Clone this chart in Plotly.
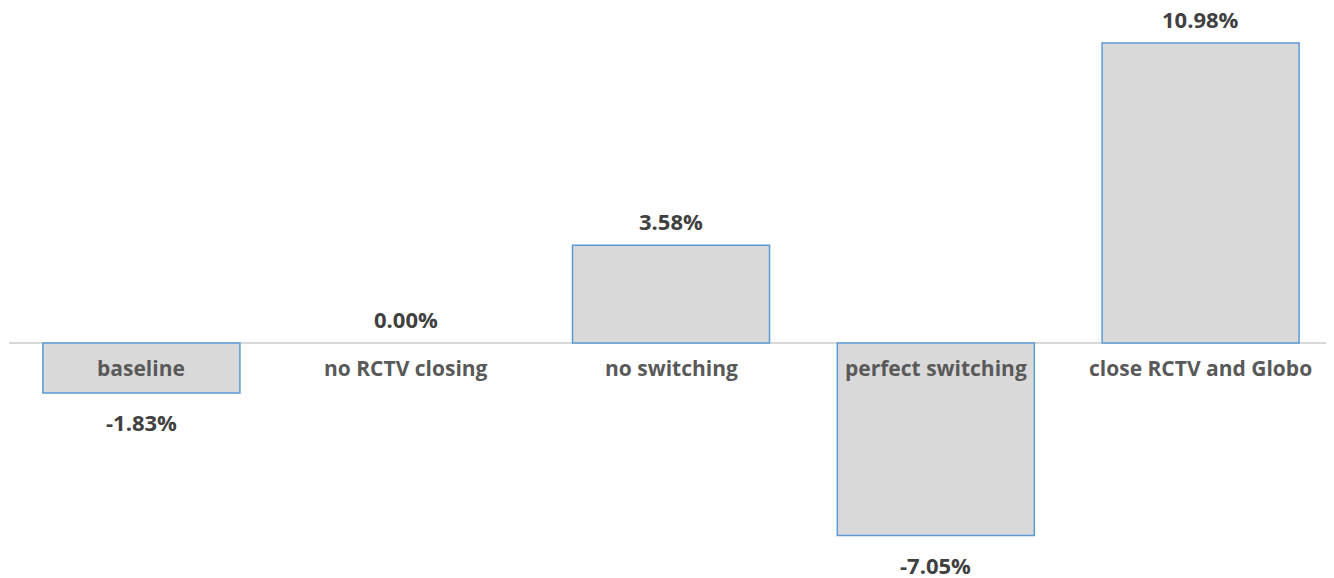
import plotly.graph_objects as go

categories = ["baseline", "no RCTV closing", "no switching", "perfect switching", "close RCTV and Globo"]
values = [-1.83, 0.00, 3.58, -7.05, 10.98]

fig = go.Figure()
fig.add_trace(go.Bar(
    x=categories, y=values,
    marker=dict(color="#d9d9d9",
                line=dict(color="#5b9bd5", width=[0 if v == 0 else 1.5 for v in values])),
    hoverinfo="skip",
))

for c, v in zip(categories, values):
    fig.add_annotation(x=c, y=v, xref="x", yref="y", text=f"<b>{v:.2f}%</b>",
                       showarrow=False, yshift=24 if v >= 0 else -29,
                       font=dict(family="Open Sans", size=22, color="#404040"))
    fig.add_annotation(x=c, y=0, xref="x", yref="y", text=f"<b>{c}</b>",
                       showarrow=False, yshift=-25,
                       font=dict(family="Open Sans", size=21, color="#595959"))

fig.update_layout(
    width=1334, height=578,
    margin=dict(l=1, r=9, t=0, b=0),
    paper_bgcolor="white", plot_bgcolor="white",
    bargap=0.256, showlegend=False,
    xaxis=dict(range=[-0.5, 4.5], showticklabels=False, showgrid=False, zeroline=False, showline=False),
    yaxis=dict(range=[-8.894, 12.26], showticklabels=False, showgrid=False,
               zeroline=True, zerolinecolor="#d9d9d9", zerolinewidth=2, showline=False),
)
fig.write_html("out.html")
